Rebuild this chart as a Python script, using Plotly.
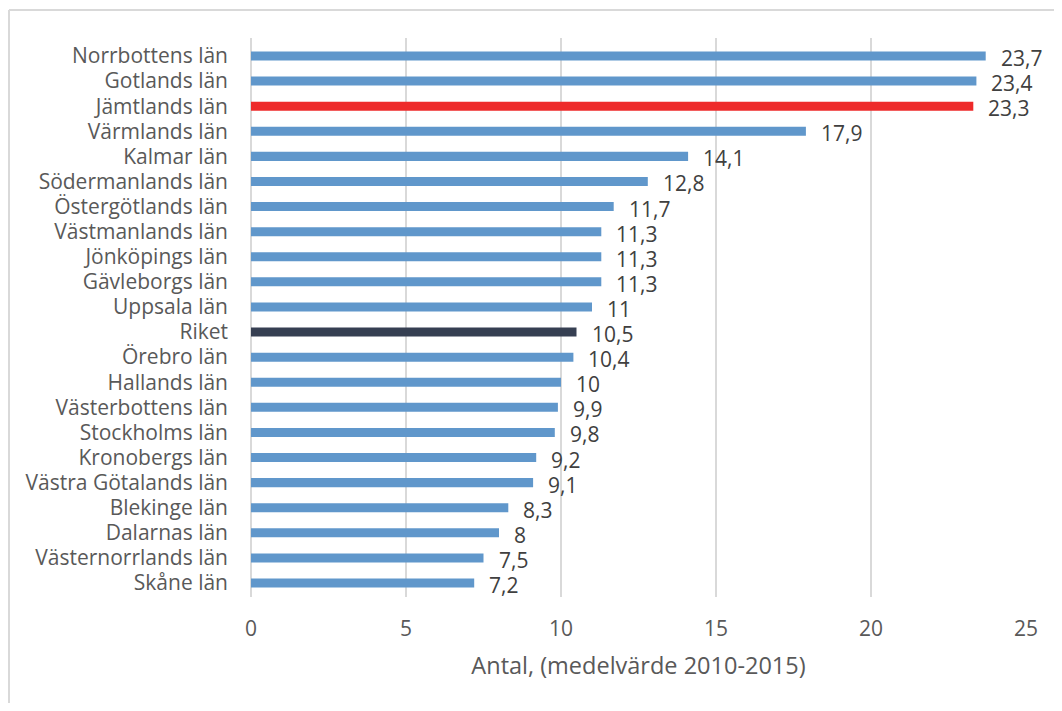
import plotly.graph_objects as go

categories = ["Norrbottens län", "Gotlands län", "Jämtlands län", "Värmlands län", "Kalmar län",
              "Södermanlands län", "Östergötlands län", "Västmanlands län", "Jönköpings län",
              "Gävleborgs län", "Uppsala län", "Riket", "Örebro län", "Hallands län",
              "Västerbottens län", "Stockholms län", "Kronobergs län", "Västra Götalands län",
              "Blekinge län", "Dalarnas län", "Västernorrlands län", "Skåne län"]
values = [23.7, 23.4, 23.3, 17.9, 14.1, 12.8, 11.7, 11.3, 11.3, 11.3, 11, 10.5, 10.4, 10,
          9.9, 9.8, 9.2, 9.1, 8.3, 8, 7.5, 7.2]
x_ticks = [0, 5, 10, 15, 20, 25]
x_title = "Antal, (medelvärde 2010-2015)"

BLUE = "#6097CB"
RED = "#EE2A2A"
DARK = "#363F52"
colors = [RED if c == "Jämtlands län" else DARK if c == "Riket" else BLUE for c in categories]

def fmt(v):
    s = ("%g" % v)
    return s.replace(".", ",")

FONT = "Open Sans"
fig = go.Figure(go.Bar(
    x=values, y=categories, orientation="h",
    marker=dict(color=colors, line=dict(width=0)),
    width=0.36,
))

for c, v in zip(categories, values):
    fig.add_annotation(x=v, y=c, text=fmt(v), showarrow=False, xanchor="left", yanchor="middle",
                       xshift=13, yshift=-2, font=dict(family=FONT, size=21, color="#404040"))

fig.update_layout(
    width=1046, height=695,
    margin=dict(l=243, r=28, t=30, b=106),
    paper_bgcolor="white", plot_bgcolor="white",
    showlegend=False,
    font=dict(family=FONT, size=21, color="#595959"),
    shapes=[
        dict(type="line", xref="paper", yref="paper", x0=-242/775, x1=1.2, y0=1 + 28/559, y1=1 + 28/559,
             line=dict(color="#D9D9D9", width=2)),
        dict(type="line", xref="paper", yref="paper", x0=-242/775, x1=-242/775, y0=1 + 28/559, y1=-0.3,
             line=dict(color="#D9D9D9", width=2)),
    ],
)
fig.update_xaxes(
    range=[0, 25], tickvals=x_ticks, ticktext=[str(t) for t in x_ticks],
    showgrid=True, gridcolor="#D9D9D9", gridwidth=1.5,
    zeroline=True, zerolinecolor="#D9D9D9", zerolinewidth=1.5,
    showline=False, ticks="", ticklabelstandoff=17, automargin=False,
    tickfont=dict(family=FONT, size=21, color="#595959"),
    title=dict(text=x_title, font=dict(family=FONT, size=23.5, color="#595959"), standoff=16),
)
fig.update_yaxes(
    autorange="reversed", showgrid=False, showline=False, ticks="", automargin=False,
    ticklabelstandoff=22, tickfont=dict(family=FONT, size=21, color="#595959"),
)

fig.write_html("out.html")
